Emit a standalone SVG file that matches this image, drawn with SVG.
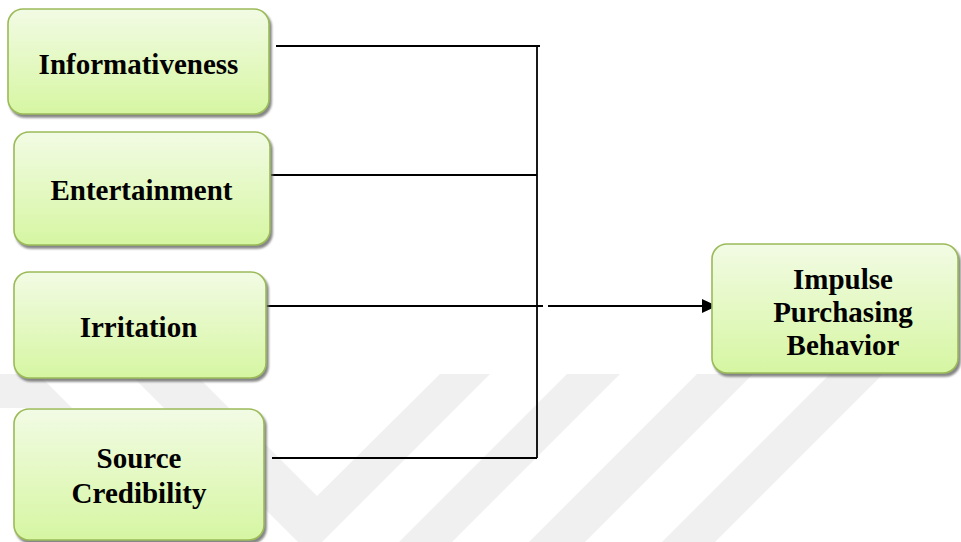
<svg xmlns="http://www.w3.org/2000/svg" width="961" height="542" viewBox="0 0 961 542">
<defs>
<linearGradient id="g" x1="0" y1="0" x2="0" y2="1">
<stop offset="0" stop-color="#f2fbe4"/>
<stop offset="1" stop-color="#d6f6a2"/>
</linearGradient>
<filter id="sh" x="-10%" y="-10%" width="125%" height="130%">
<feDropShadow dx="2" dy="3" stdDeviation="1.2" flood-color="#6f6f6f" flood-opacity="0.85"/>
</filter>
<marker id="ah" markerWidth="15" markerHeight="14" refX="15" refY="7" orient="auto" markerUnits="userSpaceOnUse">
<path d="M0,0 L15,7 L0,14 Z" fill="#000"/>
</marker>
<style>
.box{fill:url(#g);stroke:#9bbb59;stroke-width:1.6;filter:url(#sh)}
.t{font-family:"Liberation Serif","Times New Roman",serif;font-weight:bold;font-size:29px;fill:#000;text-anchor:middle}
.ln{stroke:#000;stroke-width:1.8;fill:none}
.wm{fill:#f0f0f0}
</style>
</defs>
<g id="watermark">
<polygon class="wm" points="130,374 195,374 317,496 440,374 490,374 322,542 298,542"/>
<polygon class="wm" points="567,374 620,374 452,542 399,542"/>
<polygon class="wm" points="697,374 753,374 585,542 529,542"/>
<polygon class="wm" points="830,374 883,374 715,542 662,542"/>
<polygon class="wm" points="0,374 38,374 72,408 0,408"/>
</g>
<g id="connectors">
<line class="ln" x1="276" y1="46" x2="540" y2="46"/>
<line class="ln" x1="537" y1="46" x2="537" y2="458"/>
<line class="ln" x1="271" y1="175" x2="537" y2="175"/>
<line class="ln" x1="266" y1="306" x2="543" y2="306"/>
<line class="ln" x1="272" y1="458" x2="537" y2="458"/>
<line x1="548" y1="306" x2="717" y2="306" stroke="#000" stroke-width="2.2" marker-end="url(#ah)"/>
</g>
<g id="informativeness">
<rect class="box" x="8" y="9" width="261" height="105" rx="15"/>
<text class="t" x="138.5" y="74">Informativeness</text>
</g>
<g id="entertainment">
<rect class="box" x="14" y="132" width="256" height="113" rx="15"/>
<text class="t" x="141.5" y="200">Entertainment</text>
</g>
<g id="irritation">
<rect class="box" x="14" y="272" width="252" height="106" rx="15"/>
<text class="t" x="138.5" y="337">Irritation</text>
</g>
<g id="source-credibility">
<rect class="box" x="14" y="409" width="250" height="131" rx="15"/>
<text class="t" x="139" y="468">Source</text>
<text class="t" x="139" y="503">Credibility</text>
</g>
<g id="impulse-purchasing-behavior">
<rect class="box" x="712" y="244" width="246" height="129" rx="15"/>
<text class="t" x="843" y="289">Impulse</text>
<text class="t" x="843" y="322">Purchasing</text>
<text class="t" x="843" y="355">Behavior</text>
</g>
</svg>
